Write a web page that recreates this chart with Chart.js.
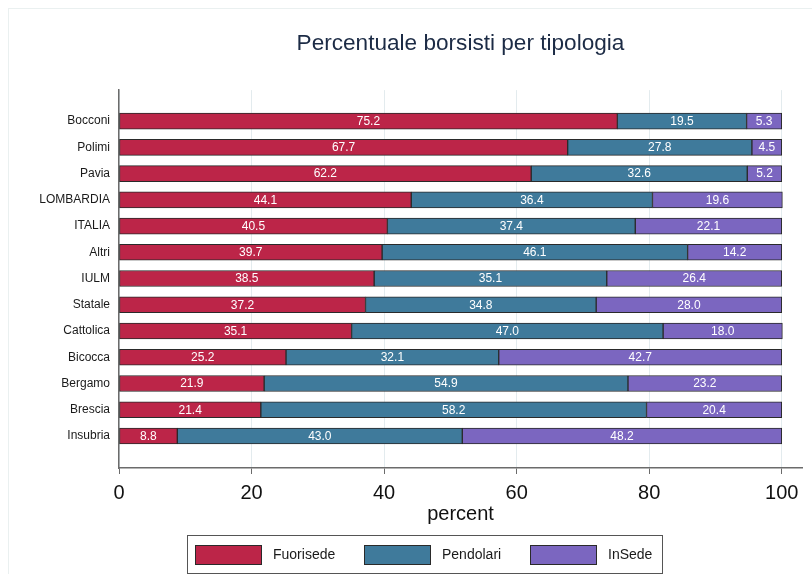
<!DOCTYPE html>
<html><head><meta charset="utf-8">
<script src="https://cdn.jsdelivr.net/npm/chart.js@4"></script>
<style>html,body{margin:0;padding:0;background:#fff}#wrap{width:812px;height:574px;position:relative}canvas{display:block}</style>
</head><body><div id="wrap"><canvas id="c" width="812" height="574"></canvas></div>
<script>
const categories = ['Bocconi','Polimi','Pavia','LOMBARDIA','ITALIA','Altri','IULM','Statale','Cattolica','Bicocca','Bergamo','Brescia','Insubria'];
const fuorisede = [75.2,67.7,62.2,44.1,40.5,39.7,38.5,37.2,35.1,25.2,21.9,21.4,8.8];
const pendolari = [19.5,27.8,32.6,36.4,37.4,46.1,35.1,34.8,47.0,32.1,54.9,58.2,43.0];
const inSede = [5.3,4.5,5.2,19.6,22.1,14.2,26.4,28.0,18.0,42.7,23.2,20.4,48.2];
const seriesNames = ['Fuorisede','Pendolari','InSede'];
const xTicks = [0,20,40,60,80,100];

const FONT = '"Liberation Sans", Arial, Helvetica, sans-serif';
const colors = ['#BC2548','#3F7A9B','#7B66C0'];
const seriesValues = [fuorisede, pendolari, inSede];

const frame = {
  id:'frame',
  beforeDraw(chart){
    const ctx = chart.ctx; ctx.save();
    ctx.strokeStyle = '#eaf0f0'; ctx.lineWidth = 1;
    ctx.strokeRect(8.5, 8.5, 900, 700);
    ctx.restore();
  }
};

const barLabels = {
  id:'barLabels',
  afterDatasetsDraw(chart){
    const ctx = chart.ctx; ctx.save();
    ctx.font = '12px ' + FONT; ctx.fillStyle = '#ffffff';
    ctx.textAlign = 'center'; ctx.textBaseline = 'middle';
    chart.data.datasets.forEach((ds, di) => {
      const meta = chart.getDatasetMeta(di);
      meta.data.forEach((el, i) => {
        const v = ds.data[i].x;
        const p = el.getProps(['x','base','y'], true);
        ctx.fillText(v.toFixed(1), (p.x + p.base) / 2, p.y + 0.5);
      });
    });
    ctx.restore();
  }
};

const legendBox = {
  id:'legendBox',
  afterDraw(chart){
    const ctx = chart.ctx; ctx.save();
    ctx.strokeStyle = '#555'; ctx.lineWidth = 1;
    ctx.strokeRect(187.5, 535.5, 475, 38);
    const sw = [195, 364, 530];
    ctx.font = '14px ' + FONT; ctx.textBaseline = 'middle'; ctx.textAlign = 'left';
    chart.data.datasets.forEach((ds, i) => {
      ctx.fillStyle = ds.backgroundColor;
      ctx.fillRect(sw[i], 545, 67, 20);
      ctx.strokeStyle = '#2a2a2a';
      ctx.strokeRect(sw[i] + 0.5, 545.5, 66, 19);
      ctx.fillStyle = '#1a1a1a';
      ctx.fillText(ds.label, sw[i] + 78, 555.5);
    });
    ctx.restore();
  }
};

new Chart(document.getElementById('c'), {
  type: 'bar',
  data: {
    datasets: seriesNames.map((name, k) => ({
      label: name,
      data: seriesValues[k].map((v, i) => ({x: v, y: i})),
      backgroundColor: colors[k],
      borderColor: '#2a2a2a',
      borderWidth: 1,
      borderSkipped: false,
      barThickness: 16
    }))
  },
  options: {
    indexAxis: 'y',
    responsive: false,
    animation: false,
    devicePixelRatio: 1,
    layout: { padding: { left: 0, right: 10, top: 0, bottom: 44 } },
    plugins: {
      legend: { display: false },
      tooltip: { enabled: false },
      title: {
        display: true, text: 'Percentuale borsisti per tipologia', fullSize: false,
        color: '#1c2b45', font: { family: FONT, size: 22.6, weight: 'normal' },
        padding: { top: 30, bottom: 33 }
      }
    },
    scales: {
      x: {
        type: 'linear', stacked: true, min: 0, max: 103.06,
        afterBuildTicks: s => { s.ticks = xTicks.map(v => ({value: v})); },
        afterFit: s => { s.height = 62; },
        grid: { color: '#e3ebee', lineWidth: 1, tickColor: '#6b6b6b', tickLength: 6, drawTicks: true },
        border: { display: true, color: '#6b6b6b', width: 1.5 },
        ticks: { color: '#111', font: { family: FONT, size: 20 }, padding: 7, maxRotation: 0, callback: v => String(v) },
        title: { display: true, text: 'percent', color: '#111', font: { family: FONT, size: 20 }, padding: { top: 0, bottom: 4 } }
      },
      y: {
        type: 'linear', stacked: true, reverse: true, offset: false, min: -1.18, max: 13.22,
        afterBuildTicks: s => { s.ticks = categories.map((c, i) => ({value: i})); },
        afterFit: s => { s.width = 119; },
        grid: { display: false, drawTicks: false, offset: false },
        border: { display: true, color: '#6b6b6b', width: 1.5 },
        ticks: { color: '#1a1a1a', font: { family: FONT, size: 12 }, padding: 9, autoSkip: false,
                 callback: v => categories[v] }
      }
    }
  },
  plugins: [frame, barLabels, legendBox]
});
</script></body></html>
